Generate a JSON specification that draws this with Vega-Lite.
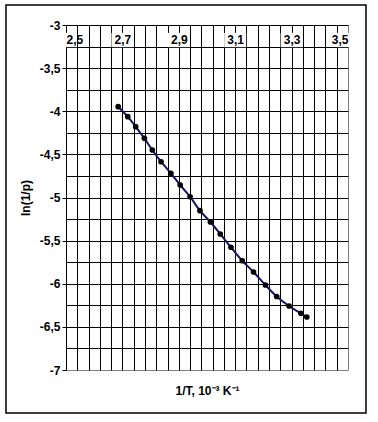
{
  "$schema": "https://vega.github.io/schema/vega-lite/v6.json",
  "autosize": {"type": "none"},
  "width": 282,
  "height": 345,
  "padding": {"left": 66, "top": 25, "right": 30, "bottom": 52},
  "background": "white",
  "config": {
    "view": {"stroke": "#808080", "strokeWidth": 1},
    "axis": {"labelFont": "Liberation Sans", "titleFont": "Liberation Sans", "labelFontWeight": "bold", "titleFontWeight": "bold", "labelFontSize": 12, "titleFontSize": 12, "labelColor": "black", "titleColor": "black"}
  },
  "datasets": {
    "pts": [
      {"invT": 2.685, "lnp": -3.947},
      {"invT": 2.719, "lnp": -4.063},
      {"invT": 2.747, "lnp": -4.179},
      {"invT": 2.778, "lnp": -4.314},
      {"invT": 2.806, "lnp": -4.449},
      {"invT": 2.837, "lnp": -4.585},
      {"invT": 2.872, "lnp": -4.719},
      {"invT": 2.905, "lnp": -4.855},
      {"invT": 2.940, "lnp": -4.991},
      {"invT": 2.975, "lnp": -5.153},
      {"invT": 3.012, "lnp": -5.284},
      {"invT": 3.047, "lnp": -5.423},
      {"invT": 3.085, "lnp": -5.577},
      {"invT": 3.125, "lnp": -5.733},
      {"invT": 3.165, "lnp": -5.864},
      {"invT": 3.207, "lnp": -6.014},
      {"invT": 3.247, "lnp": -6.148},
      {"invT": 3.291, "lnp": -6.258},
      {"invT": 3.333, "lnp": -6.343},
      {"invT": 3.354, "lnp": -6.386}
    ],
    "labels": [
      {"v": 2.5}, {"v": 2.7}, {"v": 2.9}, {"v": 3.1}, {"v": 3.3}, {"v": 3.5}
    ]
  },
  "resolve": {"axis": {"x": "independent", "y": "independent"}},
  "layer": [
    {
      "data": {"name": "pts"},
      "mark": {"type": "line", "interpolate": "monotone", "color": "#14146e", "strokeWidth": 2},
      "encoding": {
        "x": {
          "field": "invT", "type": "quantitative",
          "scale": {"domain": [2.5, 3.5], "nice": false, "zero": false},
          "axis": {
            "orient": "bottom",
            "values": [2.5, 2.54, 2.58, 2.62, 2.66, 2.7, 2.74, 2.78, 2.82, 2.86, 2.9, 2.94, 2.98, 3.02, 3.06, 3.1, 3.14, 3.18, 3.22, 3.26, 3.3, 3.34, 3.38, 3.42, 3.46],
            "grid": true, "gridColor": "black", "gridOpacity": 1, "gridWidth": 1,
            "labels": false, "ticks": false, "domain": false,
            "title": "1/T, 10⁻³ K⁻¹", "titlePadding": 15
          }
        },
        "y": {
          "field": "lnp", "type": "quantitative",
          "scale": {"domain": [-7, -3], "nice": false, "zero": false},
          "axis": {
            "orient": "left",
            "values": [-7, -6.75, -6.5, -6.25, -6, -5.75, -5.5, -5.25, -5, -4.75, -4.5, -4.25, -4, -3.75, -3.5, -3.25, -3],
            "grid": true, "gridColor": "black", "gridWidth": 1,
            "gridOpacity": {"condition": {"test": "datum.value < -6.9", "value": 0}, "value": 1},
            "labelExpr": "abs(datum.value*2 - round(datum.value*2)) < 0.001 ? replace(toString(datum.value), '.', ',') : ''",
            "tickOpacity": {"condition": {"test": "abs(datum.value*2 - round(datum.value*2)) > 0.001", "value": 0}, "value": 1},
            "tickColor": "black", "tickSize": 4, "labelPadding": 2,
            "domainColor": "black", "domainWidth": 1,
            "title": "ln(1/p)", "titlePadding": 7
          }
        }
      }
    },
    {
      "data": {"name": "labels"},
      "mark": {"type": "point", "shape": "M-1,-0.65H1V0.65H-1Z", "filled": true, "color": "white", "opacity": 1, "size": 484},
      "encoding": {
        "x": {
          "field": "v", "type": "quantitative",
          "axis": {
            "orient": "top", "values": [2.5, 2.7, 2.9, 3.1, 3.3, 3.5],
            "labelExpr": "replace(toString(datum.value), '.', ',')",
            "grid": false, "ticks": false, "domain": false, "offset": -21, "labelPadding": 0,
            "zindex": 2, "title": null
          }
        },
        "y": {"datum": -3.174, "axis": null}
      }
    },
    {
      "data": {"name": "pts"},
      "mark": {"type": "point", "filled": true, "color": "black", "opacity": 1, "size": 32},
      "encoding": {
        "x": {"field": "invT", "type": "quantitative", "axis": null},
        "y": {"field": "lnp", "type": "quantitative", "axis": null}
      }
    },
    {
      "data": {"values": [{}]},
      "mark": {"type": "rect", "fill": null, "stroke": "black", "strokeWidth": 1.5},
      "encoding": {
        "x": {"datum": 2.2872, "axis": null},
        "x2": {"datum": 3.5638},
        "y": {"datum": -2.768, "axis": null},
        "y2": {"datum": -7.4986}
      }
    }
  ]
}
